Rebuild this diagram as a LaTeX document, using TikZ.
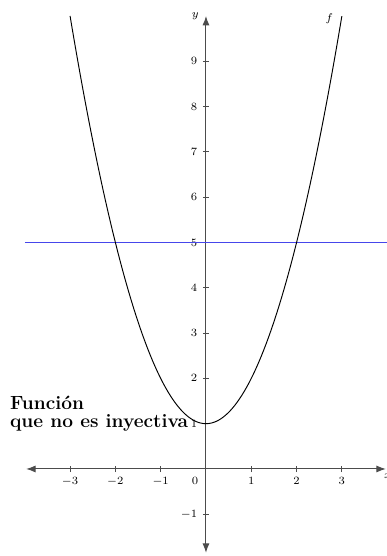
\documentclass[tikz,border=0pt]{standalone}
\usepackage{amsmath}
\usetikzlibrary{arrows.meta,positioning,calc}
\definecolor{levelblue}{RGB}{70,70,235}

\begin{document}
\begin{tikzpicture}[>=Latex,
   axis/.style={draw=black!70,line width=0.65pt,<->},
   axistick/.style={draw=black!70,line width=0.55pt},
   ticklabel/.style={font=\scriptsize},
   curve/.style={draw=black,line width=0.6pt},
   level/.style={draw=levelblue,line width=0.5pt}]
  \useasboundingbox (-4.547,-1.921) rectangle (3.996,10.353);
  % axes
  \coordinate (xl) at (-3.97,0);
  \coordinate (xr) at (3.97,0);
  \coordinate (yb) at (0,-1.85);
  \coordinate (yt) at (0,10);
  \coordinate (o) at (0,0);
  \draw[axis] (xl) -- (xr);
  \draw[axis] (yb) -- (yt);
  \node[ticklabel,anchor=north west,inner sep=0pt] (xlab) at ([xshift=-1.3pt,yshift=-3pt]xr) {$x$};
  \node[ticklabel,left=1pt] (ylab) at (yt) {$y$};
  \node[ticklabel,below left=2pt] (zero) at (o) {$0$};
  \foreach \i in {-3,-2,-1,1,2,3}{
    \draw[axistick] (\i,-0.07) -- (\i,0.07);
    \node[ticklabel,below] (lx\i) at (\i,-0.07) {$\i$};
  }
  \foreach \j in {-1,1,2,3,4,5,6,7,8,9}{
    \draw[axistick] (-0.07,\j) -- (0.07,\j);
    \node[ticklabel,left] (ly\j) at (-0.07,\j) {$\j$};
  }
  % y = 5
  \coordinate (hl) at (-4,5);
  \coordinate (hr) at (4.2,5);
  \draw[level] (hl) -- (hr);
  % f(x) = x^2 + 1
  \draw[curve] plot[domain=-3:3,samples=120,smooth] (\x,{\x*\x+1});
  \coordinate (fend) at (3,10);
  \node[ticklabel,left=2pt,yshift=-1.5pt] (flab) at (fend) {$f$};
  \node[font=\large\bfseries,align=left,anchor=north west,inner sep=0pt] (txt)
     at (-4.33,1.62) {Funci\'on\\[-2.5pt]que no es inyectiva};
\end{tikzpicture}
\end{document}
